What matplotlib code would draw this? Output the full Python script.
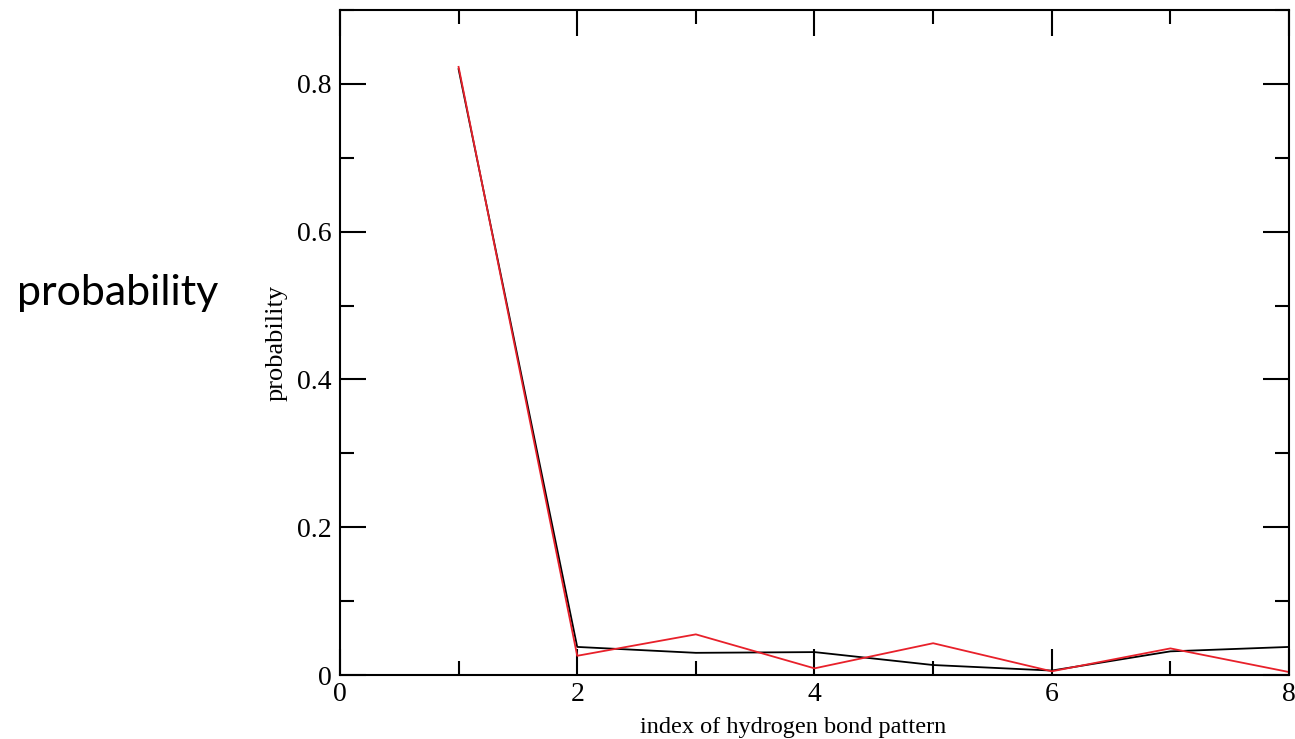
import matplotlib
matplotlib.use("Agg")
import matplotlib.pyplot as plt
from matplotlib.ticker import MultipleLocator

# hydrogen bond pattern index vs probability
pattern_idx = [1, 2, 3, 4, 5, 6, 7, 8]
prob_black = [0.820, 0.038, 0.030, 0.031, 0.0135, 0.006, 0.032, 0.038]
prob_red = [0.823, 0.026, 0.055, 0.009, 0.043, 0.005, 0.036, 0.004]

fig = plt.figure(figsize=(12.95, 7.39), dpi=100)
ax = fig.add_axes([0.2625, 0.0866, 0.7329, 0.8999])

ax.plot(pattern_idx, prob_black, color='black', lw=1.3)
ax.plot(pattern_idx, prob_red, color='#e8202a', lw=1.3)

ax.set_xlim(0, 8)
ax.set_ylim(0, 0.9)
ax.xaxis.set_major_locator(MultipleLocator(2))
ax.xaxis.set_minor_locator(MultipleLocator(1))
ax.yaxis.set_major_locator(MultipleLocator(0.2))
ax.yaxis.set_minor_locator(MultipleLocator(0.1))
ax.set_yticks([0, 0.2, 0.4, 0.6, 0.8])
ax.set_yticklabels(['0', '0.2', '0.4', '0.6', '0.8'])

serif = 'Liberation Serif'
ax.tick_params(which='both', direction='in', top=True, right=True, width=1.5,
               labelsize=20)
ax.tick_params(axis='x', pad=5)
ax.tick_params(axis='y', pad=6)
ax.tick_params(which='major', length=19)
ax.tick_params(which='minor', length=10)
for lab in ax.get_xticklabels() + ax.get_yticklabels():
    lab.set_fontfamily(serif)
for s in ax.spines.values():
    s.set_linewidth(1.5)

ax.set_xlabel('index of hydrogen bond pattern', fontsize=17.5, family=serif)
ax.xaxis.set_label_coords(0.477, -0.063)
ax.set_ylabel('probability', fontsize=19, family=serif)
ax.yaxis.set_label_coords(-0.055, 0.5)

fig.text(0.013, 0.603, 'probability', fontsize=31, family='Lato', ha='left', va='center')

fig.savefig('out.png', dpi=100)
